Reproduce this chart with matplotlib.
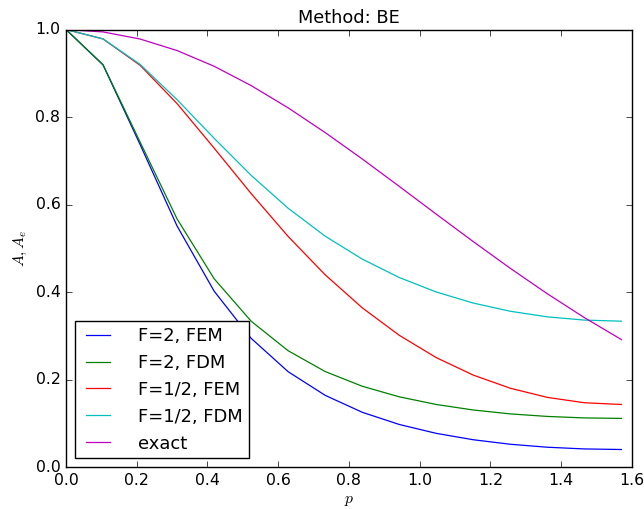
import matplotlib
matplotlib.use('Agg')
import matplotlib.pyplot as plt

plt.style.use('classic')
plt.rcParams['font.size'] = 11.3
plt.rcParams['axes.titlesize'] = 12.8
plt.rcParams['legend.fontsize'] = 12.9

p = [0.0, 0.1047, 0.2094, 0.3142, 0.4189, 0.5236, 0.6283, 0.7330,
     0.8378, 0.9425, 1.0472, 1.1519, 1.2566, 1.3614, 1.4661, 1.5708]

fem_f2 = [1.0, 0.9191, 0.7374, 0.5507, 0.4020, 0.2941, 0.2178, 0.1638,
          0.1251, 0.0972, 0.0769, 0.0623, 0.0520, 0.0452, 0.0413, 0.0400]
fdm_f2 = [1.0, 0.9196, 0.7430, 0.5669, 0.4304, 0.3333, 0.2657, 0.2182,
          0.1846, 0.1604, 0.1429, 0.1303, 0.1214, 0.1156, 0.1122, 0.1111]
fem_f05 = [1.0, 0.9785, 0.9183, 0.8306, 0.7289, 0.6250, 0.5269, 0.4393,
           0.3639, 0.3010, 0.2500, 0.2100, 0.1800, 0.1591, 0.1469, 0.1429]
fdm_f05 = [1.0, 0.9786, 0.9204, 0.8396, 0.7514, 0.6667, 0.5914, 0.5276,
           0.4752, 0.4331, 0.4000, 0.3747, 0.3560, 0.3432, 0.3358, 0.3333]
exact = [1.0, 0.9945, 0.9783, 0.9519, 0.9160, 0.8719, 0.8209, 0.7644,
         0.7041, 0.6414, 0.5779, 0.5151, 0.4541, 0.3959, 0.3414, 0.2912]

labels = ['F=2, FEM', 'F=2, FDM', 'F=1/2, FEM', 'F=1/2, FDM', 'exact']

fig = plt.figure(figsize=(6.44, 5.09), dpi=100)
fig.subplots_adjust(left=0.1025, right=0.981, top=0.942, bottom=0.0825)
ax = fig.add_subplot(111)

for y, lab, c in zip([fem_f2, fdm_f2, fem_f05, fdm_f05, exact], labels,
                     ['b', 'g', 'r', 'c', 'm']):
    ax.plot(p, y, color=c, label=lab, linewidth=0.9)

ax.set_xlim(0, 1.6)
ax.set_ylim(0, 1.0)
ax.set_xlabel('$p$', labelpad=4)
ax.set_ylabel('$A, A_e$')
ax.set_title('Method: BE')
ax.legend(loc='lower left', handlelength=1.96, handletextpad=1.28,
          borderpad=0.3, labelspacing=0.5, borderaxespad=0.5)

fig.savefig('out.png', dpi=100)
